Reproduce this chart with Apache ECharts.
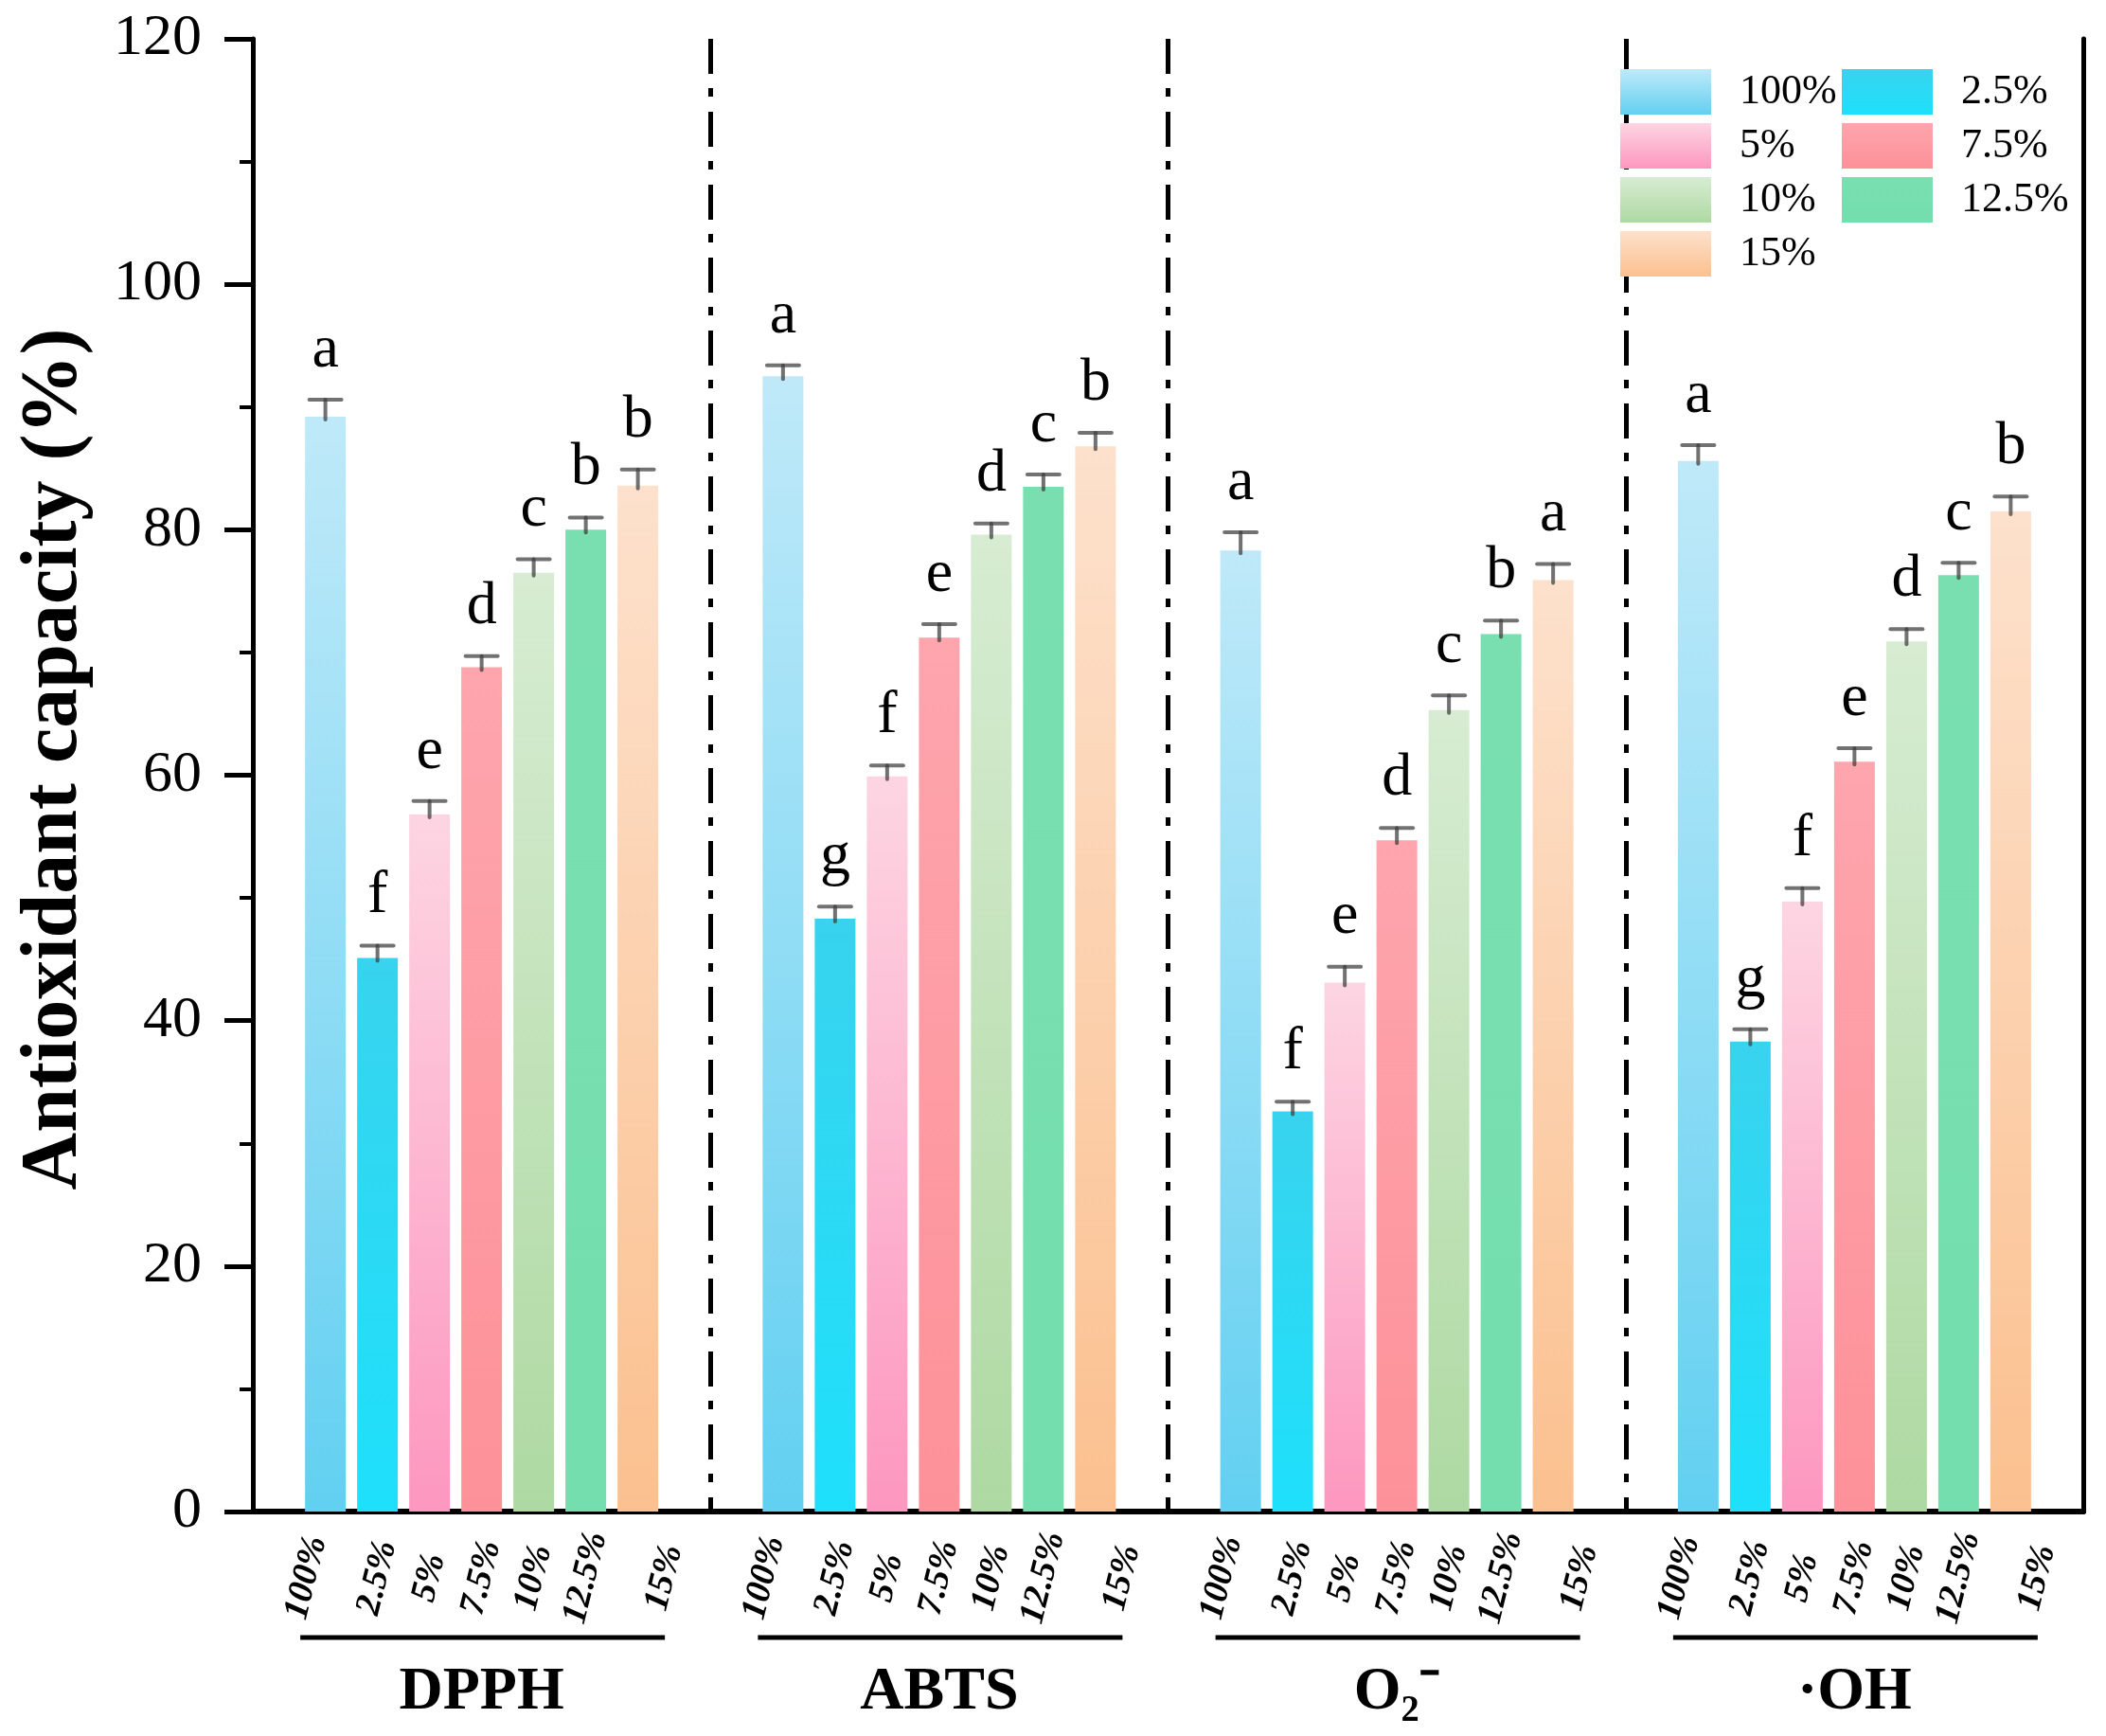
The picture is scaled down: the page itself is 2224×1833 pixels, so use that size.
<!DOCTYPE html>
<html>

<head>
    <meta charset="utf-8">
    <script type="text/javascript" src="https://cdn.jsdelivr.net/npm/echarts@6/dist/echarts.min.js"></script>
    <title>Antioxidant capacity</title>
    <style>
        body { margin: 0; background: #fff; }
    </style>
</head>

<body>
    <div id="container" style="width:2224px;height:1833px;"></div>
    <script type="text/javascript">
    // assays (x axis groups) and substitution levels (series)
    var groups = ['DPPH', 'ABTS', 'O₂⁻', '·OH'];
    var levels = ['100%', '2.5%', '5%', '7.5%', '10%', '12.5%', '15%'];

    // mean values, one array per level, in the order of groups
    var v100 = [89.2, 92.5, 78.3, 85.6];
    var v2_5 = [45.1, 48.3, 32.6, 38.3];
    var v5 = [56.8, 59.9, 43.1, 49.7];
    var v7_5 = [68.8, 71.2, 54.7, 61.1];
    var v10 = [76.5, 79.6, 65.3, 70.9];
    var v12_5 = [80.0, 83.5, 71.5, 76.3];
    var v15 = [83.6, 86.8, 75.9, 81.5];

    // error (upper half of the bar)
    var e100 = [1.4, 0.9, 1.5, 1.3];
    var e2_5 = [1.0, 1.0, 0.8, 1.0];
    var e5 = [1.1, 0.9, 1.3, 1.1];
    var e7_5 = [0.9, 1.1, 1.0, 1.1];
    var e10 = [1.1, 0.9, 1.2, 1.0];
    var e12_5 = [1.0, 1.0, 1.1, 1.0];
    var e15 = [1.3, 1.1, 1.3, 1.2];

    // significance letters
    var l100 = ['a', 'a', 'a', 'a'];
    var l2_5 = ['f', 'g', 'f', 'g'];
    var l5 = ['e', 'f', 'e', 'f'];
    var l7_5 = ['d', 'e', 'd', 'e'];
    var l10 = ['c', 'd', 'c', 'd'];
    var l12_5 = ['b', 'c', 'b', 'c'];
    var l15 = ['b', 'b', 'a', 'b'];

    var yTicks = [0, 20, 40, 60, 80, 100, 120];

    // legend columns
    var legendLeft = ['100%', '5%', '10%', '15%'];
    var legendRight = ['2.5%', '7.5%', '12.5%'];

    var values = [v100, v2_5, v5, v7_5, v10, v12_5, v15];
    var errors = [e100, e2_5, e5, e7_5, e10, e12_5, e15];
    var letters = [l100, l2_5, l5, l7_5, l10, l12_5, l15];

    // bar colours: [top, bottom]
    var colors = [
        ['#bfe9f9', '#62d0f1'],
        ['#38d3ee', '#1ee0fb'],
        ['#fdd5e2', '#fd97bf'],
        ['#fea5ad', '#fd9199'],
        ['#d7ecd2', '#aed9a2'],
        ['#79dfb1', '#74deae'],
        ['#fde1cc', '#fbc08f']
    ];
    // sideways nudge (px) of the rotated level labels under the bars
    var labelShift = [-20, 0, 0, 0, 0, 0, 28];
    var labelRot = 76;

    var serif = '"Liberation Serif", "Times New Roman", serif';
    var barW = 43;
    var gapPx = 12;
    var groupW = 7 * barW + 6 * gapPx;
    var errColor = 'rgba(60,60,60,0.72)';

    var myChart = echarts.init(document.getElementById('container'));

    var rad = labelRot * Math.PI / 180;
    var series = [];
    levels.forEach(function (name, i) {
        // label offset is in the rotated frame; turn a horizontal shift into it
        var dx = labelShift[i];
        series.push({
            name: name,
            type: 'bar',
            barWidth: barW,
            barGap: (gapPx / barW * 100).toFixed(1) + '%',
            data: values[i],
            itemStyle: {
                color: new echarts.graphic.LinearGradient(0, 0, 0, 1, [
                    { offset: 0, color: colors[i][0] },
                    { offset: 1, color: colors[i][1] }
                ])
            },
            label: {
                show: true,
                position: 'bottom',
                distance: 70,
                rotate: labelRot,
                align: 'center',
                verticalAlign: 'middle',
                offset: [dx * Math.cos(rad), dx * Math.sin(rad)],
                formatter: '{a}',
                color: '#000',
                fontFamily: serif,
                fontWeight: 'bold',
                fontStyle: 'italic',
                fontSize: 38
            },
            emphasis: { disabled: true }
        });
    });

    // error bars and letters
    var errData = [];
    var errLetters = [];
    levels.forEach(function (name, s) {
        groups.forEach(function (g, c) {
            errData.push([c, values[s][c], errors[s][c], s]);
            errLetters.push(letters[s][c]);
        });
    });

    series.push({
        type: 'custom',
        name: 'err',
        silent: true,
        data: errData,
        z: 5,
        renderItem: function (params, api) {
            var c = api.value(0), v = api.value(1), e = api.value(2), s = api.value(3);
            var base = api.coord([c, v]);
            var top = api.coord([c, v + e]);
            var x = base[0] - groupW / 2 + barW / 2 + s * (barW + gapPx);
            var st = { stroke: errColor, lineWidth: 4, lineCap: 'round' };
            return {
                type: 'group',
                children: [
                    { type: 'line', shape: { x1: x, y1: base[1] + 3, x2: x, y2: top[1] }, style: st },
                    { type: 'line', shape: { x1: x - 17, y1: top[1], x2: x + 17, y2: top[1] }, style: st },
                    {
                        type: 'text',
                        style: {
                            text: errLetters[params.dataIndex],
                            x: x, y: top[1] - 52,
                            align: 'center', verticalAlign: 'middle',
                            font: '64px ' + serif,
                            fill: '#000'
                        }
                    }
                ]
            };
        }
    });

    // lines under each group of level labels
    series.push({
        type: 'custom',
        name: 'under',
        silent: true,
        data: groups.map(function (g, c) { return [c, 0]; }),
        renderItem: function (params, api) {
            var p = api.coord([api.value(0), 0]);
            return {
                type: 'line',
                shape: { x1: p[0] - groupW / 2 - 5, y1: p[1] + 133, x2: p[0] + groupW / 2 + 7, y2: p[1] + 133 },
                style: { stroke: '#000', lineWidth: 5 }
            };
        }
    });

    function legendCol(names, left) {
        return {
            data: names,
            left: left,
            top: 68,
            orient: 'vertical',
            itemWidth: 96,
            itemHeight: 48,
            itemGap: 9,
            icon: 'rect',
            selectedMode: false,
            textStyle: {
                fontFamily: serif,
                fontSize: 44,
                color: '#000',
                padding: [0, 0, 0, 25]
            }
        };
    }

    var option = {
        animation: false,
        backgroundColor: '#fff',
        grid: { left: 267, right: 24, top: 41, bottom: 237, containLabel: false, outerBoundsMode: 'none' },
        legend: [legendCol(legendLeft, 1706), legendCol(legendRight, 1940)],
        xAxis: [{
            type: 'category',
            data: groups,
            position: 'bottom',
            axisLine: { lineStyle: { color: '#000', width: 6 } },
            axisTick: { show: false },
            axisLabel: {
                margin: 191,
                verticalAlign: 'middle',
                color: '#000',
                fontFamily: serif,
                fontWeight: 'bold',
                fontSize: 64
            },
            splitLine: {
                show: true,
                lineStyle: { color: '#000', width: 5, type: [37, 15, 9, 16] }
            }
        }, {
            type: 'category',
            data: groups,
            position: 'top',
            axisLine: { lineStyle: { color: '#000', width: 5 } },
            axisTick: { show: false },
            axisLabel: { show: false },
            splitLine: { show: false }
        }],
        yAxis: [{
            type: 'value',
            min: yTicks[0],
            max: yTicks[yTicks.length - 1],
            interval: yTicks[1] - yTicks[0],
            name: 'Antioxidant capacity (%)',
            nameLocation: 'middle',
            nameGap: 167,
            nameMoveOverlap: false,
            nameTextStyle: {
                color: '#000',
                fontFamily: serif,
                fontWeight: 'bold',
                fontSize: 84,
                padding: [0, 0, 0, 34]
            },
            axisLine: { show: true, lineStyle: { color: '#000', width: 5 } },
            axisTick: { show: true, inside: false, length: 30, lineStyle: { color: '#000', width: 5 } },
            minorTick: { show: true, splitNumber: 2, length: 14, lineStyle: { color: '#000', width: 4 } },
            axisLabel: {
                margin: 54,
                color: '#000',
                fontFamily: serif,
                fontSize: 62
            },
            splitLine: { show: false }
        }, {
            type: 'value',
            position: 'right',
            min: yTicks[0],
            max: yTicks[yTicks.length - 1],
            interval: yTicks[1] - yTicks[0],
            axisLine: { show: true, lineStyle: { color: '#000', width: 5 } },
            axisTick: { show: false },
            axisLabel: { show: false },
            splitLine: { show: false }
        }],
        series: series
    };

    myChart.setOption(option);
    </script>
</body>

</html>
